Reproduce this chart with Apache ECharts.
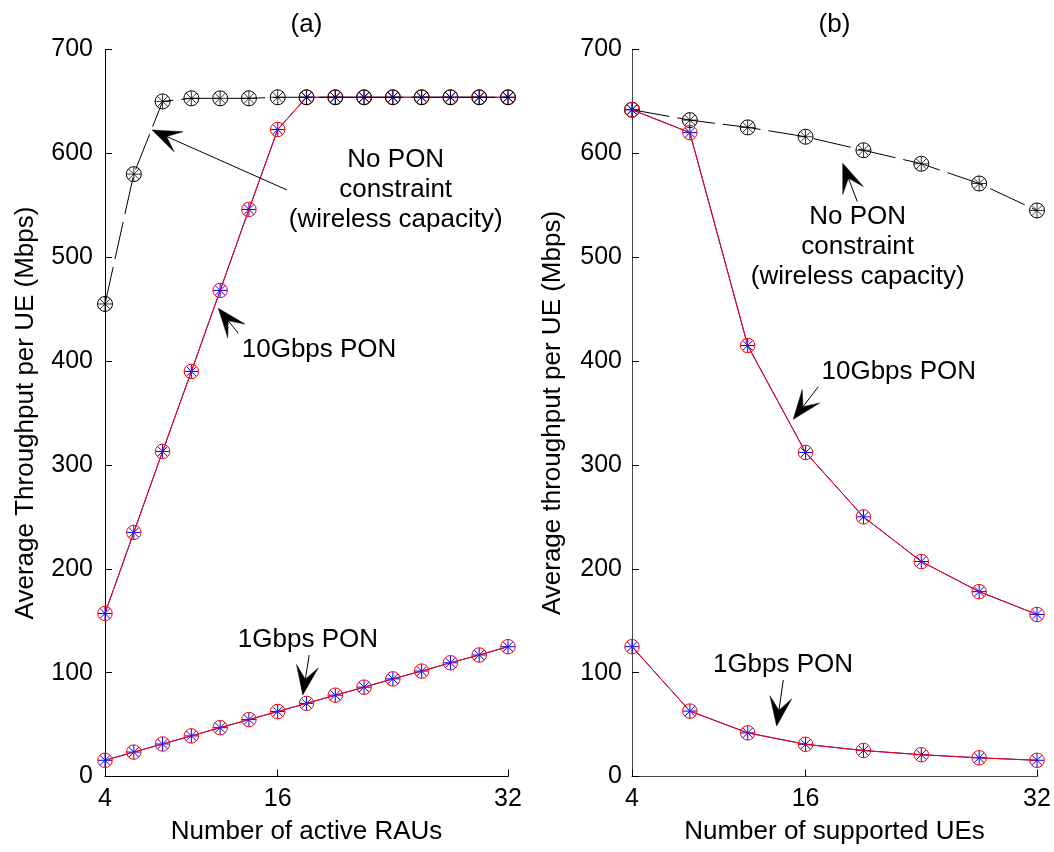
<!DOCTYPE html>
<html>
<head>
<meta charset="utf-8">
<script src="https://cdn.jsdelivr.net/npm/echarts@6/dist/echarts.min.js"></script>
<style>html,body{margin:0;padding:0;background:#fff}#c{width:1054px;height:852px}</style>
</head>
<body>
<div id="c"></div>
<script>
// ---- data ----
const xTickValues = [4, 16, 32];
const xRAUs = [4, 6, 8, 10, 12, 14, 16, 18, 20, 22, 24, 26, 28, 30, 32];
const noPonA = [455, 580, 650, 653, 653, 653, 654, 654, 654, 654, 654, 654, 654, 654, 654];
const pon10A = [157, 235, 313, 390, 468, 546, 623, 654, 654, 654, 654, 654, 654, 654, 654];
const pon1A  = [15.6, 23.5, 31.3, 39.1, 47, 54.8, 62.6, 70.4, 78.3, 86, 94, 101.5, 109.5, 117, 125];
const xUEs = [4, 8, 12, 16, 20, 24, 28, 32];
const noPonB = [642, 632, 625, 616, 603, 590, 571, 545];
const pon10B = [642, 620, 415, 312, 250, 207, 178, 156];
const pon1B  = [125, 63, 42, 31, 25, 21, 18, 15.6];

const titles = ['(a)', '(b)'];
const xNames = ['Number of active RAUs', 'Number of supported UEs'];
const yNames = ['Average Throughput per UE (Mbps)', 'Average throughput per UE (Mbps)'];

// annotations in data coordinates: [panel, x, y, text, align]
const noteTexts = [
  [0, 24.2, 564.7, 'No PON\nconstraint\n(wireless capacity)', 'center'],
  [0, 13.5, 410.7, '10Gbps PON', 'left'],
  [0, 18.1, 131.4, '1Gbps PON', 'center'],
  [1, 19.6, 509.8, 'No PON\nconstraint\n(wireless capacity)', 'center'],
  [1, 17.1, 389.8, '10Gbps PON', 'left'],
  [1, 14.44, 107.5, '1Gbps PON', 'center']
];
// arrows: [panel, tailX, tailY, tipX, tipY]
const noteArrows = [
  [0, 16.65, 564.7, 7.27, 622.5],
  [0, 13.26, 426.7, 11.87, 450.8],
  [0, 18.19, 117, 17.74, 78.5],
  [1, 19.58, 553.4, 18.57, 590.4],
  [1, 16.88, 375.3, 15.15, 343.9],
  [1, 14.46, 92.9, 14.0, 48.6]
];

// ---- chart ----
const FONT = '"Liberation Sans", Arial, Helvetica, sans-serif';
const STAR = 'path://M50 0L50 100M0 50L100 50M14.6 14.6L85.4 85.4M14.6 85.4L85.4 14.6';
const chart = echarts.init(document.getElementById('c'), null, {renderer: 'canvas'});

function pts(xs, ys) { return xs.map((x, i) => [x, ys[i]]); }

function ponSeries(gi, xs, ys, z) {
  return [
    {type: 'line', xAxisIndex: gi, yAxisIndex: gi, data: pts(xs, ys), z: z,
     symbol: STAR, symbolSize: 14, showAllSymbol: true,
     lineStyle: {color: '#0000ff', width: 1},
     itemStyle: {color: 'none', borderColor: '#0000ff', borderWidth: 1},
     emphasis: {disabled: true}, animation: false, silent: true},
    {type: 'line', xAxisIndex: gi, yAxisIndex: gi, data: pts(xs, ys), z: z + 1,
     symbol: 'circle', symbolSize: 14.5, showAllSymbol: true,
     lineStyle: {color: '#ff0000', width: 1},
     itemStyle: {color: 'none', borderColor: '#ff0000', borderWidth: 1},
     emphasis: {disabled: true}, animation: false, silent: true}
  ];
}
function noPonSeries(gi, xs, ys, z) {
  return [
    {type: 'line', xAxisIndex: gi, yAxisIndex: gi, data: pts(xs, ys), z: z,
     symbol: 'circle', symbolSize: 15, showAllSymbol: true,
     lineStyle: {color: '#000', width: 1, type: [38, 8]},
     itemStyle: {color: 'none', borderColor: '#000', borderWidth: 1},
     emphasis: {disabled: true}, animation: false, silent: true},
    {type: 'scatter', xAxisIndex: gi, yAxisIndex: gi, data: pts(xs, ys), z: z + 1,
     symbol: STAR, symbolSize: 14.5,
     itemStyle: {color: 'none', borderColor: '#000', borderWidth: 1},
     emphasis: {disabled: true}, animation: false, silent: true}
  ];
}

const tickTxt = {fontSize: 25, color: '#000', fontFamily: FONT};
const nameTxt = {fontSize: 26, color: '#000', fontFamily: FONT};
function xAxisOpt(gi) {
  return {
    type: 'value', gridIndex: gi, min: 4, max: 32,
    axisLine: {onZero: false, lineStyle: {color: gi ? '#444' : '#000', width: 1}},
    axisTick: {customValues: xTickValues, inside: true, length: 7, lineStyle: {color: '#000'}},
    axisLabel: Object.assign({customValues: xTickValues, margin: 10}, tickTxt),
    splitLine: {show: false},
    name: xNames[gi], nameLocation: 'middle', nameGap: 42, nameTextStyle: nameTxt
  };
}
function yAxisOpt(gi) {
  return {
    type: 'value', gridIndex: gi, min: 0, max: 700, interval: 100,
    axisLine: {show: true, onZero: false, lineStyle: {color: gi ? '#444' : '#000', width: 1}},
    axisTick: {show: true, inside: true, length: 7, lineStyle: {color: '#000'}},
    axisLabel: Object.assign({margin: gi ? 10 : 12}, tickTxt),
    splitLine: {show: false},
    name: yNames[gi], nameLocation: 'middle', nameRotate: 90, nameGap: 66, nameTextStyle: nameTxt
  };
}

chart.setOption({
  animation: false,
  backgroundColor: '#fff',
  grid: [
    {left: 105, top: 49.5, width: 403, height: 727, outerBoundsMode: 'none', containLabel: false},
    {left: 632, top: 49.5, width: 405, height: 727, outerBoundsMode: 'none', containLabel: false}
  ],
  xAxis: [xAxisOpt(0), xAxisOpt(1)],
  yAxis: [yAxisOpt(0), yAxisOpt(1)],
  series: [].concat(
    ponSeries(0, xRAUs, pon1A, 2),
    ponSeries(0, xRAUs, pon10A, 4),
    noPonSeries(0, xRAUs, noPonA, 6),
    noPonSeries(1, xUEs, noPonB, 2),
    ponSeries(1, xUEs, pon1B, 4),
    ponSeries(1, xUEs, pon10B, 6)
  )
});

// ---- annotations (positioned through the axes) ----
const graphics = [];
const gridCenters = [306.5, 834.5];
titles.forEach((t, i) => {
  graphics.push({type: 'text', z: 100, style: {text: t, x: gridCenters[i], y: 25, align: 'center',
    verticalAlign: 'middle', fontSize: 26, fontFamily: FONT, fill: '#000'}});
});
noteTexts.forEach(n => {
  const p = chart.convertToPixel({gridIndex: n[0]}, [n[1], n[2]]);
  graphics.push({type: 'text', z: 100, style: {text: n[3], x: p[0], y: p[1], align: n[4],
    verticalAlign: 'middle', fontSize: 26, lineHeight: 30, fontFamily: FONT, fill: '#000'}});
});
noteArrows.forEach(a => {
  const t = chart.convertToPixel({gridIndex: a[0]}, [a[1], a[2]]);
  const h = chart.convertToPixel({gridIndex: a[0]}, [a[3], a[4]]);
  const dx = h[0] - t[0], dy = h[1] - t[1];
  const len = Math.sqrt(dx * dx + dy * dy);
  const ux = dx / len, uy = dy / len, nx = -uy, ny = ux;
  const L = 29, W = 11, N = 0.55 * L;
  const bx = h[0] - ux * L, by = h[1] - uy * L;
  graphics.push({type: 'line', z: 100, shape: {x1: t[0], y1: t[1], x2: h[0] - ux * N, y2: h[1] - uy * N},
    style: {stroke: '#000', lineWidth: 1}});
  graphics.push({type: 'polygon', z: 101, shape: {points: [
    [h[0], h[1]],
    [bx + nx * W, by + ny * W],
    [h[0] - ux * N, h[1] - uy * N],
    [bx - nx * W, by - ny * W]
  ]}, style: {fill: '#000', stroke: '#000', lineWidth: 0.5}});
});
chart.setOption({graphic: graphics});
</script>
</body>
</html>
